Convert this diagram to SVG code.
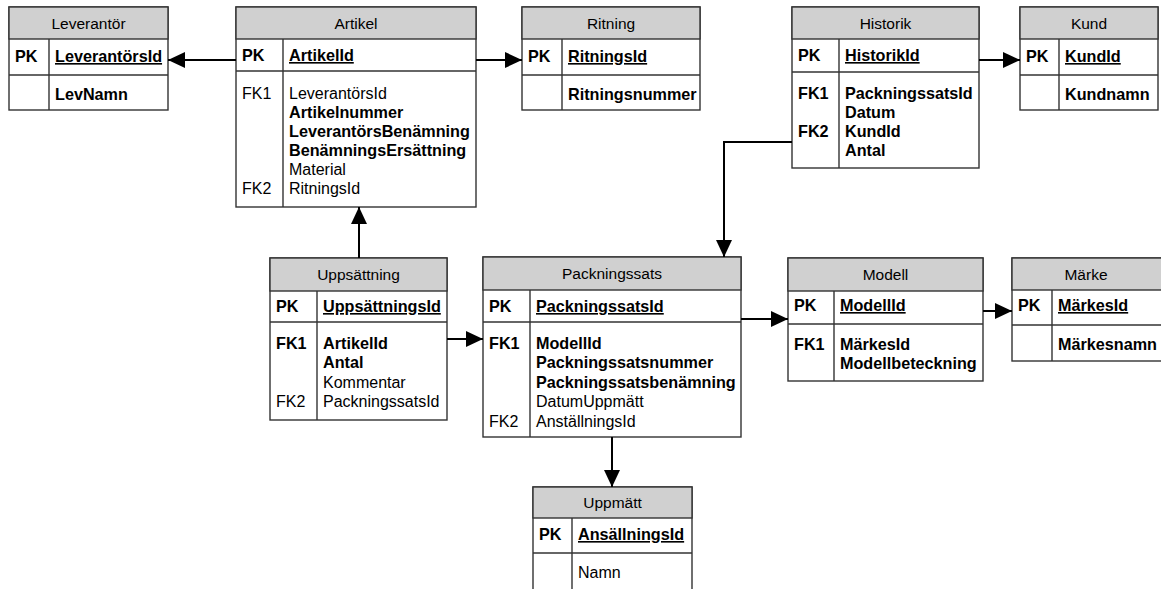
<svg xmlns="http://www.w3.org/2000/svg" width="1161" height="589" viewBox="0 0 1161 589">
  <style>
    .box { fill: #ffffff; stroke: #333333; stroke-width: 1.4; }
    .hdr { fill: #d0d0d0; stroke: #333333; stroke-width: 1.4; }
    .sep { stroke: #333333; stroke-width: 1.4; fill: none; }
    text { font-family: "Liberation Sans", Arial, sans-serif; font-size: 16px; fill: #000; }
    .title { text-anchor: middle; font-size: 15.5px; }
    .b { font-weight: bold; font-size: 16.2px; }
    .u { text-decoration: underline; }
    .conn { stroke: #000; stroke-width: 2; fill: none; marker-end: url(#arrow); }
  </style>
  <defs>
    <marker id="arrow" markerUnits="userSpaceOnUse" markerWidth="18" markerHeight="16" refX="17" refY="8" orient="auto">
      <path d="M0,0 L17,8 L0,16 Z" fill="#000"/>
    </marker>
  </defs>

  <!-- Leverantör -->
  <g id="leverantor">
    <rect class="box" x="9" y="7" width="159" height="103"/>
    <rect class="hdr" x="9" y="7" width="159" height="32"/>
    <line class="sep" x1="9" y1="75" x2="168" y2="75"/>
    <line class="sep" x1="49" y1="39" x2="49" y2="110"/>
    <text class="title" x="88.5" y="29">Leverantör</text>
    <text class="b" x="15" y="62">PK</text>
    <text class="b u" x="55" y="62">LeverantörsId</text>
    <text class="b" x="55" y="100">LevNamn</text>
  </g>

  <!-- Artikel -->
  <g id="artikel">
    <rect class="box" x="236" y="7" width="240" height="200"/>
    <rect class="hdr" x="236" y="7" width="240" height="32"/>
    <line class="sep" x1="236" y1="71" x2="476" y2="71"/>
    <line class="sep" x1="283" y1="39" x2="283" y2="207"/>
    <text class="title" x="356" y="29">Artikel</text>
    <text class="b" x="242" y="61">PK</text>
    <text class="b u" x="289" y="61">ArtikelId</text>
    <text x="242" y="99">FK1</text>
    <text x="289" y="99">LeverantörsId</text>
    <text class="b" x="289" y="118">Artikelnummer</text>
    <text class="b" x="289" y="137">LeverantörsBenämning</text>
    <text class="b" x="289" y="156">BenämningsErsättning</text>
    <text x="289" y="175">Material</text>
    <text x="242" y="194">FK2</text>
    <text x="289" y="194">RitningsId</text>
  </g>

  <!-- Ritning -->
  <g id="ritning">
    <rect class="box" x="522" y="7" width="178" height="103"/>
    <rect class="hdr" x="522" y="7" width="178" height="32"/>
    <line class="sep" x1="522" y1="75" x2="700" y2="75"/>
    <line class="sep" x1="562" y1="39" x2="562" y2="110"/>
    <text class="title" x="611" y="29">Ritning</text>
    <text class="b" x="528" y="62">PK</text>
    <text class="b u" x="568" y="62">RitningsId</text>
    <text class="b" x="568" y="100">Ritningsnummer</text>
  </g>

  <!-- Historik -->
  <g id="historik">
    <rect class="box" x="792" y="7" width="187" height="161"/>
    <rect class="hdr" x="792" y="7" width="187" height="32"/>
    <line class="sep" x1="792" y1="72" x2="979" y2="72"/>
    <line class="sep" x1="839" y1="39" x2="839" y2="168"/>
    <text class="title" x="885.5" y="29">Historik</text>
    <text class="b" x="798" y="61">PK</text>
    <text class="b u" x="845" y="61">HistorikId</text>
    <text class="b" x="798" y="99">FK1</text>
    <text class="b" x="845" y="99">PackningssatsId</text>
    <text class="b" x="845" y="118">Datum</text>
    <text class="b" x="798" y="137">FK2</text>
    <text class="b" x="845" y="137">KundId</text>
    <text class="b" x="845" y="156">Antal</text>
  </g>

  <!-- Kund -->
  <g id="kund">
    <rect class="box" x="1020" y="7" width="138" height="103"/>
    <rect class="hdr" x="1020" y="7" width="138" height="32"/>
    <line class="sep" x1="1020" y1="75" x2="1158" y2="75"/>
    <line class="sep" x1="1059" y1="39" x2="1059" y2="110"/>
    <text class="title" x="1089" y="29">Kund</text>
    <text class="b" x="1026" y="62">PK</text>
    <text class="b u" x="1065" y="62">KundId</text>
    <text class="b" x="1065" y="100">Kundnamn</text>
  </g>

  <!-- Uppsättning -->
  <g id="uppsattning">
    <rect class="box" x="270" y="258" width="177" height="162"/>
    <rect class="hdr" x="270" y="258" width="177" height="33"/>
    <line class="sep" x1="270" y1="322" x2="447" y2="322"/>
    <line class="sep" x1="317" y1="291" x2="317" y2="420"/>
    <text class="title" x="358.5" y="280">Uppsättning</text>
    <text class="b" x="276" y="312">PK</text>
    <text class="b u" x="323" y="312">UppsättningsId</text>
    <text class="b" x="276" y="349">FK1</text>
    <text class="b" x="323" y="349">ArtikelId</text>
    <text class="b" x="323" y="368">Antal</text>
    <text x="323" y="388">Kommentar</text>
    <text x="276" y="407">FK2</text>
    <text x="323" y="407">PackningssatsId</text>
  </g>

  <!-- Packningssats -->
  <g id="packningssats">
    <rect class="box" x="483" y="257" width="258" height="180"/>
    <rect class="hdr" x="483" y="257" width="258" height="33"/>
    <line class="sep" x1="483" y1="322" x2="741" y2="322"/>
    <line class="sep" x1="530" y1="290" x2="530" y2="437"/>
    <text class="title" x="612" y="279">Packningssats</text>
    <text class="b" x="489" y="312">PK</text>
    <text class="b u" x="536" y="312">PackningssatsId</text>
    <text class="b" x="489" y="349">FK1</text>
    <text class="b" x="536" y="349">ModellId</text>
    <text class="b" x="536" y="368">Packningssatsnummer</text>
    <text class="b" x="536" y="388">Packningssatsbenämning</text>
    <text x="536" y="407">DatumUppmätt</text>
    <text x="489" y="427">FK2</text>
    <text x="536" y="427">AnställningsId</text>
  </g>

  <!-- Modell -->
  <g id="modell">
    <rect class="box" x="788" y="258" width="195" height="123"/>
    <rect class="hdr" x="788" y="258" width="195" height="33"/>
    <line class="sep" x1="788" y1="324" x2="983" y2="324"/>
    <line class="sep" x1="834" y1="291" x2="834" y2="381"/>
    <text class="title" x="885.5" y="280">Modell</text>
    <text class="b" x="794" y="311">PK</text>
    <text class="b u" x="840" y="311">ModellId</text>
    <text class="b" x="794" y="350">FK1</text>
    <text class="b" x="840" y="350">MärkesId</text>
    <text class="b" x="840" y="369">Modellbeteckning</text>
  </g>

  <!-- Märke -->
  <g id="marke">
    <rect class="box" x="1012" y="258" width="152" height="103"/>
    <rect class="hdr" x="1012" y="258" width="152" height="32"/>
    <line class="sep" x1="1012" y1="325" x2="1164" y2="325"/>
    <line class="sep" x1="1052" y1="290" x2="1052" y2="361"/>
    <text class="title" x="1086" y="280">Märke</text>
    <text class="b" x="1018" y="311">PK</text>
    <text class="b u" x="1058" y="311">MärkesId</text>
    <text class="b" x="1058" y="350">Märkesnamn</text>
  </g>

  <!-- Uppmätt -->
  <g id="uppmatt">
    <rect class="box" x="533" y="487" width="159" height="110"/>
    <rect class="hdr" x="533" y="487" width="159" height="31"/>
    <line class="sep" x1="533" y1="553" x2="692" y2="553"/>
    <line class="sep" x1="572" y1="518" x2="572" y2="597"/>
    <text class="title" x="612.5" y="508">Uppmätt</text>
    <text class="b" x="539" y="540">PK</text>
    <text class="b u" x="578" y="540">AnsällningsId</text>
    <text x="578" y="578">Namn</text>
  </g>

  <!-- Relationships -->
  <g id="connectors">
    <path class="conn" d="M236,60 H168"/>
    <path class="conn" d="M476,60 H522"/>
    <path class="conn" d="M979,60 H1020"/>
    <path class="conn" d="M792,142 H724 V257"/>
    <path class="conn" d="M359,258 V207"/>
    <path class="conn" d="M447,339 H483"/>
    <path class="conn" d="M741,319 H788"/>
    <path class="conn" d="M983,311 H1012"/>
    <path class="conn" d="M612,437 V487"/>
  </g>
</svg>
